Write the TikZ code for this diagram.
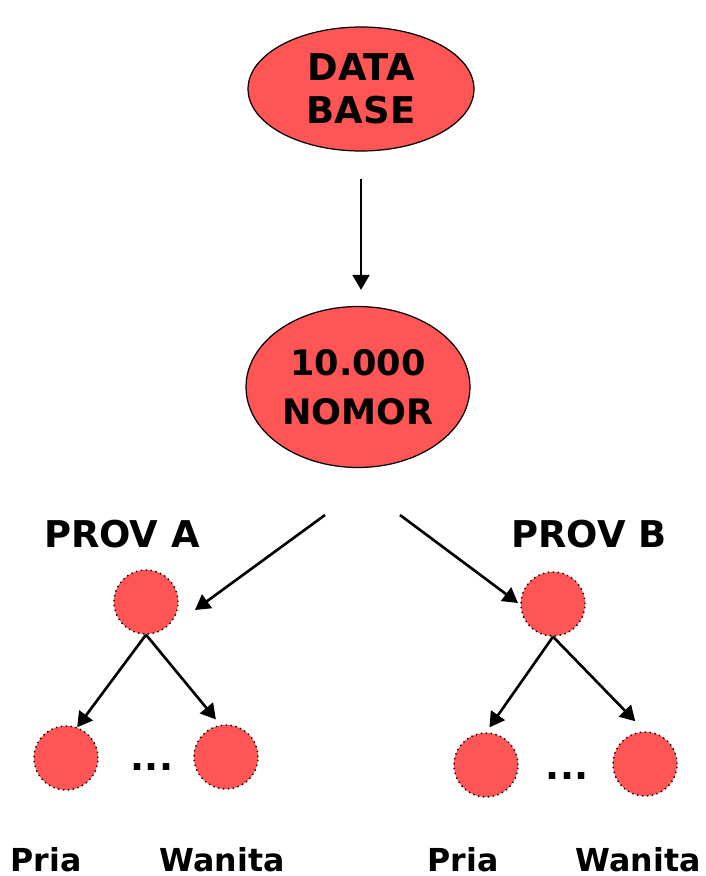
\documentclass[tikz,border=0pt]{standalone}
\usepackage{fontspec}
\setmainfont{DejaVu Sans}
\usetikzlibrary{arrows.meta,shapes.geometric}
\definecolor{ballred}{RGB}{255,85,85}

\begin{document}
\begin{tikzpicture}[x=0.02cm,y=-0.02cm,
		bigoval/.style={ellipse,draw=black,line width=0.7pt,fill=ballred,inner sep=0pt,align=center},
		ball/.style={circle,draw=black,dotted,line width=0.8pt,fill=ballred,minimum size=1.28cm,inner sep=0pt},
		link/.style={-{Triangle[length=8.5pt,width=9.5pt]},line width=1.5pt},
		txt/.style={anchor=base,font=\bfseries\fontsize{21}{24}\selectfont}]
		\useasboundingbox (0,0) rectangle (706,876);
		% ovals
		\node[bigoval,minimum width=4.52cm,minimum height=2.48cm,
			font=\bfseries\fontsize{21}{24.4}\selectfont] (db) at (361,89) {DATA\\BASE};
		\node[bigoval,minimum width=4.48cm,minimum height=3.22cm,
			font=\bfseries\fontsize{20}{28}\selectfont] (nom) at (358,387) {10.000\\NOMOR};
		% provinces
		\node[ball] (pa) at (146,602) {};
		\node[ball] (pb) at (553,604) {};
		\node[txt] (pat) at (122,547) {PROV A};
		\node[txt] (pbt) at (589,547) {PROV B};
		% sexes
		\node[ball] (pa1) at (66,758) {};
		\node[ball] (pa2) at (226,757) {};
		\node[ball] (pb1) at (486,765) {};
		\node[ball] (pb2) at (645,764) {};
		\node[txt] (dota) at (152,770) {...};
		\node[txt] (dotb) at (567,779) {...};
		\node[txt,font=\bfseries\fontsize{18}{20}\selectfont] (pa1t) at (46,871) {Pria};
		\node[txt,font=\bfseries\fontsize{18}{20}\selectfont] (pa2t) at (222,871) {Wanita};
		\node[txt,font=\bfseries\fontsize{18}{20}\selectfont] (pb1t) at (463,871) {Pria};
		\node[txt,font=\bfseries\fontsize{18}{20}\selectfont] (pb2t) at (638,871) {Wanita};
		% arrow ends
		\coordinate (nomA) at (325,515);
		\coordinate (nomB) at (400,515);
		\coordinate (toA) at (195,610);
		\coordinate (toB) at (518,603);
		% arrows
		\draw[link,shorten <=0.54cm,shorten >=0.32cm] (db.south) -- (db.south |- nom.north);
		\draw[link] (nomA) -- (toA);
		\draw[link] (nomB) -- (toB);
		\draw[link] (pa.south) -- (pa1.70);
		\draw[link,shorten >=0.14cm] (pa.south) -- (pa2.100);
		\draw[link,shorten >=0.12cm] (pb.south) -- (pb1.north);
		\draw[link,shorten >=0.28cm] (pb.south) -- (pb2.north);
	\end{tikzpicture}
\end{document}
